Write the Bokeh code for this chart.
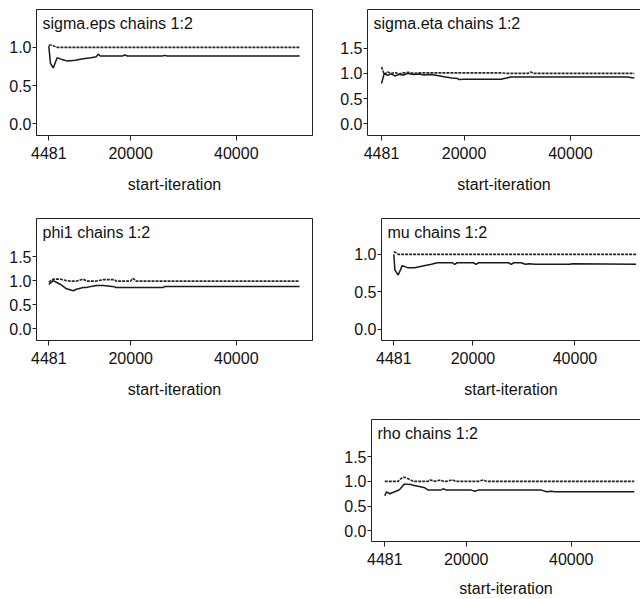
from bokeh.plotting import figure
from bokeh.models import Range1d, FixedTicker, LinearAxis, Label, Spacer
from bokeh.layouts import column, row
from bokeh.embed import file_html
from bokeh.resources import INLINE

# ---------------- data ----------------
XTICKS = [4481, 20000, 40000]
XTICK_LABELS = ["4481", "20000", "40000"]
YTICKS = [0.0, 0.5, 1.0, 1.5]
YTICK_LABELS = ["0.0", "0.5", "1.0", "1.5"]
XLABEL = "start-iteration"

title_eps = "sigma.eps chains 1:2"
x_eps = [4481, 4800, 5313, 6070, 7000, 8020, 9500, 11000, 12500, 13500, 13826, 14300,
         17000, 18400, 18860, 19400, 26000, 26400, 26900, 52000]
up_eps = [1.03, 1.03, 1.02, 1.0, 1.0, 1.0, 1.0, 1.0, 1.0, 1.0, 1.0, 1.0,
          1.0, 1.0, 1.0, 1.0, 1.0, 1.0, 1.0, 1.0]
lo_eps = [1.02, 0.79, 0.73, 0.865, 0.84, 0.82, 0.83, 0.85, 0.865, 0.878, 0.91, 0.886,
          0.886, 0.886, 0.90, 0.886, 0.886, 0.895, 0.886, 0.886]

title_eta = "sigma.eta chains 1:2"
x_eta = [4481, 5000, 5600, 6300, 7000, 7800, 8600, 9500, 10500, 11500, 12500, 13500,
         14400, 15500, 16500, 17700, 18770, 19000, 20000, 26900, 28000, 28780, 32000,
         32540, 33000, 50700, 52000]
up_eta = [1.13, 0.98, 1.03, 1.0, 1.02, 0.99, 1.01, 1.02, 1.0, 1.01, 1.01, 1.01,
          1.01, 1.01, 1.01, 1.01, 1.01, 1.01, 1.01, 1.01, 1.0, 1.0, 1.0,
          1.03, 1.0, 1.0, 1.0]
lo_eta = [0.80, 1.0, 0.96, 0.99, 0.95, 0.98, 0.97, 1.0, 0.98, 0.99, 0.97, 0.98,
          0.97, 0.95, 0.93, 0.91, 0.90, 0.88, 0.885, 0.885, 0.91, 0.93, 0.93,
          0.93, 0.93, 0.93, 0.91]

title_phi = "phi1 chains 1:2"
x_phi = [4481, 5313, 6000, 6700, 7830, 8500, 9150, 9720, 10990, 11620, 12500, 13500,
         14770, 16500, 16970, 17200, 20000, 20450, 21000, 26130, 26400, 52000]
up_phi = [0.97, 1.03, 1.03, 1.03, 1.0, 0.99, 0.99, 0.99, 1.03, 0.99, 0.99, 0.99,
          1.02, 1.02, 1.02, 0.99, 0.99, 1.05, 0.99, 0.99, 0.99, 0.99]
lo_phi = [0.92, 1.0, 0.96, 0.92, 0.83, 0.81, 0.79, 0.82, 0.855, 0.855, 0.88, 0.90,
          0.90, 0.88, 0.87, 0.855, 0.855, 0.855, 0.855, 0.855, 0.878, 0.878]

title_mu = "mu chains 1:2"
x_mu = [4481, 4700, 5350, 6130, 7300, 8600, 9900, 11860, 13000, 16000, 16400, 16900,
        20100, 20600, 21100, 27000, 27500, 28000, 29400, 30300, 31000, 32200, 39000,
        39500, 52000]
up_mu = [1.03, 1.03, 1.0, 1.0, 1.0, 1.0, 1.0, 1.0, 1.0, 1.0, 1.0, 1.0,
         1.0, 1.0, 1.0, 1.0, 1.0, 1.0, 1.0, 1.0, 1.0, 1.0, 1.0,
         1.0, 1.0]
lo_mu = [1.0, 0.79, 0.724, 0.85, 0.82, 0.82, 0.84, 0.867, 0.888, 0.888, 0.867, 0.888,
         0.888, 0.867, 0.888, 0.888, 0.867, 0.888, 0.888, 0.867, 0.875, 0.867, 0.867,
         0.875, 0.867]

title_rho = "rho chains 1:2"
x_rho = [4481, 4800, 5430, 6380, 7030, 7340, 8000, 8290, 8610, 9560, 9890, 10840,
         12100, 12750, 13050, 14140, 15090, 15600, 16230, 17380, 17950, 20990, 21630,
         22270, 23220, 23850, 34330, 35280, 36230, 36860, 52000]
up_rho = [1.0, 1.0, 1.0, 1.0, 1.0, 1.04, 1.085, 1.08, 1.07, 1.02, 1.0, 1.0,
          1.0, 1.0, 1.03, 1.0, 1.03, 1.0, 1.0, 1.03, 1.0, 1.0, 1.0,
          1.0, 1.03, 1.0, 1.0, 1.0, 1.0, 1.0, 1.0]
lo_rho = [0.71, 0.79, 0.75, 0.79, 0.82, 0.84, 0.92, 0.95, 0.94, 0.935, 0.92, 0.90,
          0.87, 0.824, 0.824, 0.824, 0.824, 0.85, 0.824, 0.824, 0.824, 0.824, 0.80,
          0.824, 0.824, 0.824, 0.824, 0.79, 0.80, 0.79, 0.79]

FONT = "Liberation Sans"
INK = "#222222"


def panel(title, xs, up, lo, width, height, mb_left, mb_right, mb_top, mb_bottom,
          xr, yr, open_right, tick_standoff=6, label_standoff=14):
    p = figure(width=width, height=height, x_range=Range1d(*xr), y_range=Range1d(*yr),
               output_backend="svg", toolbar_location=None,
               min_border_left=mb_left, min_border_right=mb_right,
               min_border_top=mb_top, min_border_bottom=mb_bottom,
               background_fill_color="white", border_fill_color="white")
    p.grid.visible = False
    xa = p.below[0]
    ya = p.left[0]

    yt = [t for t in YTICKS if yr[0] <= t <= yr[1]]
    xa.ticker = FixedTicker(ticks=XTICKS)
    xa.major_label_overrides = {t: s for t, s in zip(XTICKS, XTICK_LABELS)}
    ya.ticker = FixedTicker(ticks=yt)
    ya.major_label_overrides = {t: s for t, s in zip(YTICKS, YTICK_LABELS)}
    for ax in (xa, ya):
        ax.axis_line_color = INK
        ax.major_tick_line_color = INK
        ax.minor_tick_line_color = None
        ax.major_tick_in = 0
        ax.major_label_text_font = FONT
        ax.major_label_text_font_size = "16px"
        ax.major_label_text_color = "#111111"
    xa.major_tick_out = 5
    ya.major_tick_out = 4
    xa.major_label_standoff = tick_standoff
    ya.major_label_standoff = 1
    xa.axis_label = XLABEL
    xa.axis_label_text_font = FONT
    xa.axis_label_text_font_size = "16px"
    xa.axis_label_text_font_style = "normal"
    xa.axis_label_text_color = "#111111"
    xa.axis_label_standoff = label_standoff

    if open_right:
        p.outline_line_color = None
        top = LinearAxis(ticker=FixedTicker(ticks=[]), major_label_text_font_size="0px",
                         major_tick_out=0, major_tick_in=0, minor_tick_out=0,
                         minor_tick_in=0, major_label_standoff=0,
                         axis_line_color=INK, axis_line_width=1)
        p.add_layout(top, "above")
    else:
        p.outline_line_color = INK
        p.outline_line_width = 1
        p.outline_line_alpha = 1.0

    p.line(xs, up, line_color="#262626", line_width=1.6, line_dash="3 1")
    p.line(xs, lo, line_color="#1a1a1a", line_width=1.5)

    p.add_layout(Label(x=xr[0], y=yr[1], x_offset=6, y_offset=-5, text=title,
                       text_font=FONT, text_font_size="16px", text_color="#111111",
                       text_baseline="top", text_align="left"))
    return p


p1 = panel(title_eps, x_eps, up_eps, lo_eps, 320, 200, 36, 8, 9, 65,
           (2154, 54437), (-0.153, 1.495), False)
p2 = panel(title_eta, x_eta, up_eta, lo_eta, 320, 200, 47, 0, 9, 65,
           (1849, 53165), (-0.232, 2.268), True)
p3 = panel(title_phi, x_phi, up_phi, lo_phi, 320, 200, 36, 8, 15, 57,
           (2154, 54437), (-0.243, 2.289), False)
p4 = panel(title_mu, x_mu, up_mu, lo_mu, 320, 200, 61, 0, 18, 59,
           (2069, 52853), (-0.152, 1.48), True)
p5 = panel(title_rho, x_rho, up_rho, lo_rho, 320, 199, 51, 0, 19, 54,
           (1948, 53186), (-0.215, 2.251), True, label_standoff=12)

layout = column(row(p1, p2), row(p3, p4), row(Spacer(width=320, height=199), p5))

open("out.html", "w").write(file_html(layout, INLINE))
